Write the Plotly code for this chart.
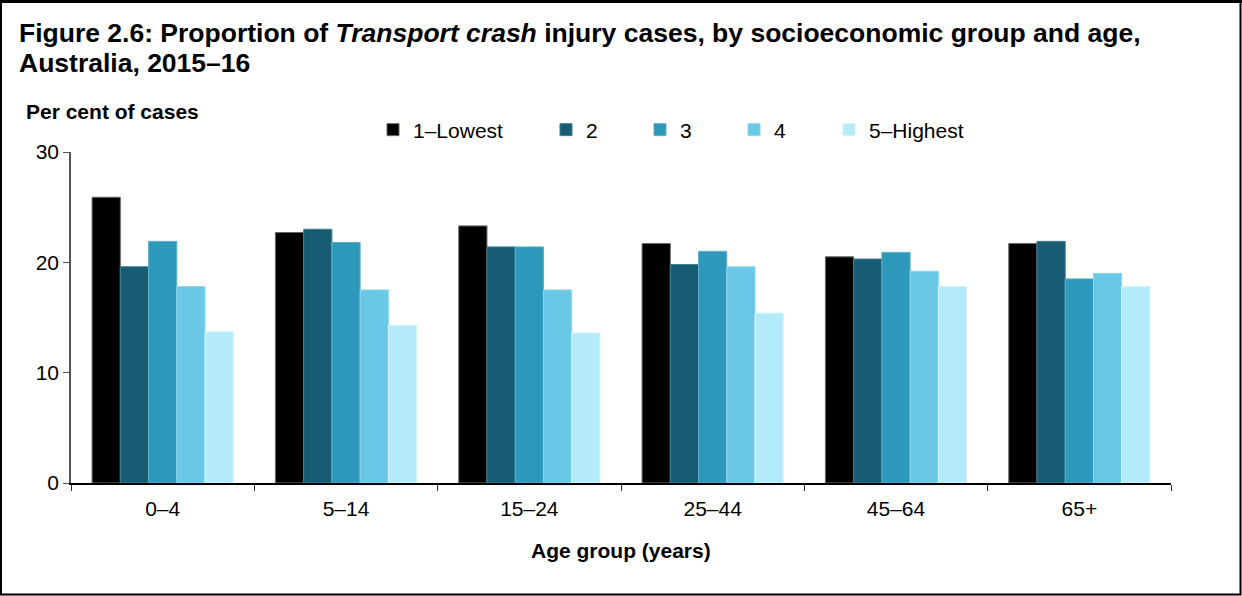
import plotly.graph_objects as go

age_groups = ["0–4", "5–14", "15–24", "25–44", "45–64", "65+"]
groups = ["1–Lowest", "2", "3", "4", "5–Highest"]

lowest = [25.9, 22.7, 23.3, 21.7, 20.5, 21.7]
group_2 = [19.6, 23.0, 21.4, 19.8, 20.3, 21.9]
group_3 = [21.9, 21.8, 21.4, 21.0, 20.9, 18.5]
group_4 = [17.8, 17.5, 17.5, 19.6, 19.2, 19.0]
highest = [13.7, 14.3, 13.6, 15.4, 17.8, 17.8]

values = [lowest, group_2, group_3, group_4, highest]
colours = ["#000000", "#175C72", "#2E98BA", "#6AC7E6", "#B4EBFA"]
outlines = ["#666666", "#3f7f92", "#5fb0cc", "#8ed6ee", "#d4f4fd"]

# plot area in pixels: x 71..1171, y 152..483
L, R, T, B = 71, 71, 152, 113
W, H = 1242, 596
pw, ph = W - L - R, H - T - B
FONT = "Liberation Sans, Arial"


def px_x(p):
    return (p - L) / pw


def px_y(p):
    return (H - B - p) / ph


fig = go.Figure()

# where each legend label starts (px)
legend_text_x = [414, 587, 681, 775, 870]
for i, (name, vals) in enumerate(zip(groups, values)):
    lg = "legend" if i == 0 else "legend%d" % (i + 1)
    fig.add_trace(go.Bar(
        x=age_groups, y=vals, name=name,
        marker=dict(color=colours[i], line=dict(color=outlines[i], width=1)),
        legend=lg,
    ))
    fig.update_layout({lg: dict(
        x=px_x(legend_text_x[i] - 41), xanchor="left",
        y=px_y(130), yanchor="middle",
        bgcolor="rgba(0,0,0,0)", borderwidth=0,
        font=dict(family=FONT, size=21, color="black"),
        itemclick=False,
    )})

fig.update_layout(
    width=W, height=H,
    margin=dict(l=L, r=R, t=T, b=B),
    paper_bgcolor="white", plot_bgcolor="white",
    barmode="group", bargap=0.23, bargroupgap=0,
    font=dict(family=FONT, size=21, color="black"),
    xaxis=dict(
        showline=True, linecolor="black", linewidth=1.5,
        ticks="outside", tickson="boundaries", ticklen=6, tickcolor="#333", tickwidth=1,
        tickfont=dict(size=21), ticklabelstandoff=6, showgrid=False,
    ),
    yaxis=dict(
        range=[0, 30], tickvals=[0, 10, 20, 30],
        showline=True, linecolor="#555", linewidth=1.5,
        ticks="outside", ticklen=6, tickcolor="#555", tickwidth=1,
        tickfont=dict(size=21), showgrid=False, zeroline=False,
    ),
    showlegend=True,
)

title_lines = [
    "<b>Figure 2.6: Proportion of <i>Transport crash</i> injury cases, by socioeconomic group and age,</b>",
    "<b>Australia, 2015–16</b>",
]
for line, yc in zip(title_lines, [33, 63]):
    fig.add_annotation(
        xref="paper", yref="paper", x=px_x(17), y=px_y(yc), xanchor="left", yanchor="middle",
        showarrow=False, text=line, font=dict(size=26.5),
    )
fig.add_annotation(
    xref="paper", yref="paper", x=px_x(24), y=px_y(112), xanchor="left", yanchor="middle",
    showarrow=False, text="<b>Per cent of cases</b>", font=dict(size=21),
)
fig.add_annotation(
    xref="paper", yref="paper", x=0.5, y=px_y(550), xanchor="center", yanchor="middle",
    showarrow=False, text="<b>Age group (years)</b>", font=dict(size=21),
)

# frame around the figure
fig.add_shape(type="rect", xref="paper", yref="paper",
              x0=px_x(1), x1=px_x(1240.5), y0=px_y(594.5), y1=px_y(1.5),
              line=dict(color="black", width=2))
fig.add_shape(type="line", xref="paper", yref="paper",
              x0=px_x(0), x1=px_x(1242), y0=px_y(1.5), y1=px_y(1.5),
              line=dict(color="black", width=3))

fig.write_html("out.html", config={"displayModeBar": False},
               post_script="document.body.style.margin='0';")
